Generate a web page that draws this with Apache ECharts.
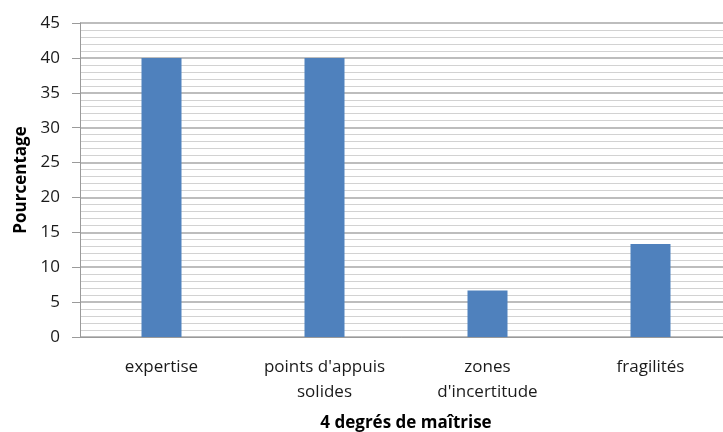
<!DOCTYPE html>
<html>
<head>
<meta charset="utf-8">
<script src="https://cdn.jsdelivr.net/npm/echarts@6/dist/echarts.min.js"></script>
<style>
  html, body { margin: 0; padding: 0; background: #fff; }
  #chart { width: 723px; height: 432px; }
</style>
</head>
<body>
<div id="chart"></div>
<script>
// Degrés de maîtrise et pourcentages correspondants
const categories = ['expertise', "points d'appuis\nsolides", "zones\nd'incertitude", 'fragilités'];
const percentages = [40, 40, 6.67, 13.33];
const yTicks = { min: 0, max: 45, interval: 5 };
const xTitle = '4 degrés de maîtrise';
const yTitle = 'Pourcentage';

const font = "'Open Sans', 'Noto Sans', sans-serif";
const chart = echarts.init(document.getElementById('chart'), null, { renderer: 'canvas' });

chart.setOption({
  animation: false,
  backgroundColor: '#ffffff',
  // plot area runs slightly past the right edge of the canvas
  grid: { left: 80, top: 23, width: 652, height: 314, containLabel: false, outerBoundsMode: 'none' },
  xAxis: {
    type: 'category',
    data: categories,
    name: xTitle,
    nameLocation: 'middle',
    nameGap: 78,
    nameTextStyle: { fontFamily: font, fontSize: 17, fontWeight: 'bold', color: '#000' },
    axisLine: { lineStyle: { color: '#9a9a9a', width: 1 } },
    axisTick: { show: false },
    axisLabel: { interval: 0, margin: 18, fontFamily: font, fontSize: 17, color: '#1a1a1a', lineHeight: 25 },
    splitLine: { show: false }
  },
  yAxis: {
    type: 'value',
    min: yTicks.min,
    max: yTicks.max,
    interval: yTicks.interval,
    name: yTitle,
    nameLocation: 'middle',
    nameGap: 50,
    nameRotate: 90,
    nameTextStyle: { fontFamily: font, fontSize: 17, fontWeight: 'bold', color: '#000' },
    axisLine: { show: true, lineStyle: { color: '#9a9a9a', width: 1 } },
    axisTick: { show: true, length: 8, lineStyle: { color: '#9a9a9a' } },
    axisLabel: { margin: 20, fontFamily: font, fontSize: 17, color: '#1a1a1a' },
    splitLine: { show: true, lineStyle: { color: '#bdbdbd', width: 2 } },
    minorTick: { show: false, splitNumber: 5 },
    minorSplitLine: { show: true, lineStyle: { color: '#d2d2d2', width: 1 } }
  },
  series: [{
    type: 'bar',
    data: percentages,
    barWidth: 40,
    itemStyle: { color: '#4f81bd' }
  }]
});
</script>
</body>
</html>
